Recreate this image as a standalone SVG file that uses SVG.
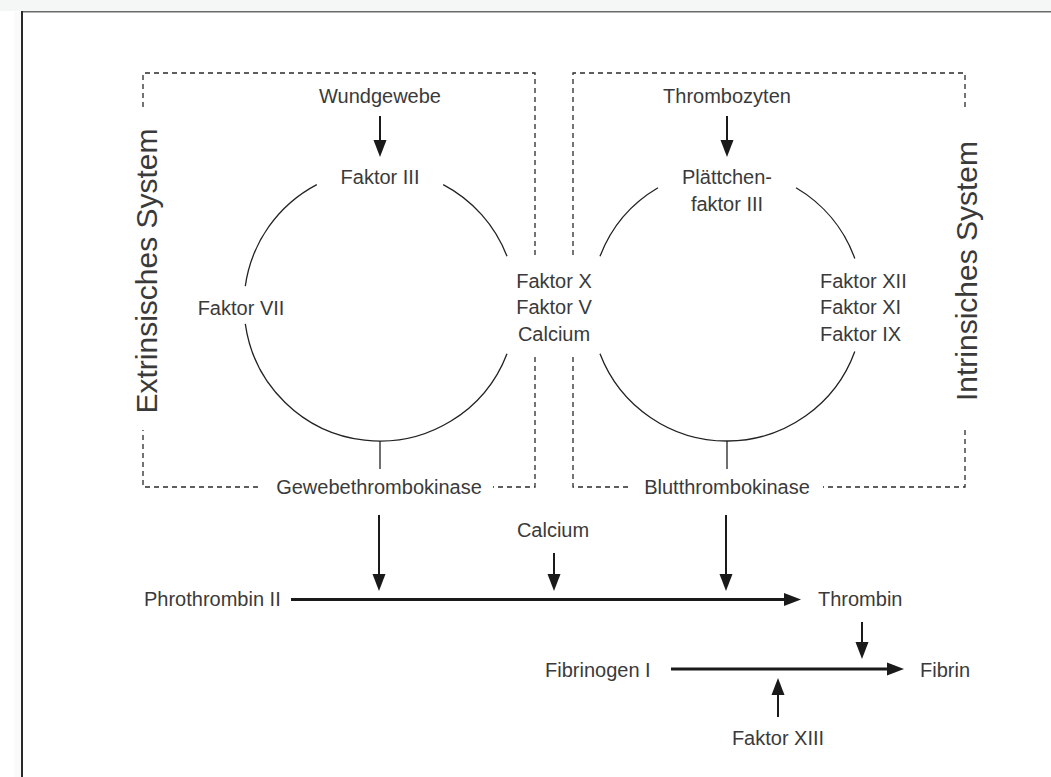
<svg xmlns="http://www.w3.org/2000/svg" width="1051" height="777" viewBox="0 0 1051 777">
<style>
.t{font-family:"Liberation Sans",Arial,sans-serif;font-size:20px;fill:#3a3a3a}
.big{font-family:"Liberation Sans",Arial,sans-serif;font-size:30px;fill:#3a3a3a}
.dash{fill:none;stroke:#2a2a2a;stroke-width:1.3;stroke-dasharray:5 4}
.arc{fill:none;stroke:#222;stroke-width:1.3}
.ar{fill:none;stroke:#1a1a1a;stroke-width:2;marker-end:url(#ah)}
.ar3{fill:none;stroke:#1a1a1a;stroke-width:3;marker-end:url(#ah)}
</style>
<defs>
<marker id="ah" markerUnits="userSpaceOnUse" markerWidth="18" markerHeight="14" refX="7" refY="7" orient="auto">
<path d="M0,0.5 L17,7 L0,13.5 z" fill="#1a1a1a"/>
</marker>
</defs>
<rect x="0" y="0" width="1051" height="777" fill="#fff"/>
<rect x="0" y="0" width="1051" height="11" fill="#f5f6f6"/>
<rect x="14" y="12" width="8" height="765" fill="#fafafa"/>
<line x1="22" y1="11.8" x2="1051" y2="11.8" stroke="#6a6a6a" stroke-width="1.6"/>
<line x1="22" y1="11" x2="22" y2="777" stroke="#2a2a2a" stroke-width="2"/>

<g id="box-extrinsic">
<path class="dash" d="M143,107 V73 H535 V257"/>
<path class="dash" d="M535,357 V487 H493"/>
<path class="dash" d="M258,487 H143 V430"/>
<text class="big" transform="translate(157,271) rotate(-90)" text-anchor="middle">Extrinsisches System</text>
</g>
<g id="box-intrinsic">
<path class="dash" d="M573,255 V73 H965 V107"/>
<path class="dash" d="M965,430 V487 H823"/>
<path class="dash" d="M628,487 H573 V355"/>
<text class="big" transform="translate(977,271) rotate(-90)" text-anchor="middle">Intrinsiches System</text>
</g>

<g id="circle-extrinsic">
<path class="arc" d="M443.2,184.6 A136,136 0 0 1 507,256.3"/>
<path class="arc" d="M507,353.7 A136,136 0 0 1 245.3,323.9"/>
<path class="arc" d="M245.3,286.1 A136,136 0 0 1 316.8,184.6"/>
<line class="arc" x1="380" y1="441" x2="380" y2="469"/>
</g>
<g id="circle-intrinsic">
<path class="arc" d="M796,187.8 A136,136 0 0 1 854.8,258.5"/>
<path class="arc" d="M854.8,351.5 A136,136 0 0 1 600,353.7"/>
<path class="arc" d="M600,256.3 A136,136 0 0 1 658,187.8"/>
<line class="arc" x1="727" y1="441" x2="727" y2="469"/>
</g>

<g id="n-wundgewebe"><text class="t" x="380" y="103" text-anchor="middle">Wundgewebe</text></g>
<g id="n-faktor3"><text class="t" x="380" y="184" text-anchor="middle">Faktor III</text></g>
<g id="n-faktor7"><text class="t" x="241" y="315" text-anchor="middle">Faktor VII</text></g>
<g id="n-faktorXV"><text class="t" text-anchor="middle"><tspan x="554" y="288">Faktor X</tspan><tspan x="554" y="314">Faktor V</tspan><tspan x="554" y="341">Calcium</tspan></text></g>
<g id="n-gewebethrombokinase"><text class="t" x="379" y="494" text-anchor="middle">Gewebethrombokinase</text></g>
<g id="n-thrombozyten"><text class="t" x="727" y="103" text-anchor="middle">Thrombozyten</text></g>
<g id="n-plaettchen"><text class="t" text-anchor="middle"><tspan x="727" y="184">Plättchen-</tspan><tspan x="727" y="211">faktor III</tspan></text></g>
<g id="n-faktor12"><text class="t"><tspan x="820" y="288">Faktor XII</tspan><tspan x="820" y="314">Faktor XI</tspan><tspan x="820" y="341">Faktor IX</tspan></text></g>
<g id="n-blutthrombokinase"><text class="t" x="727" y="494" text-anchor="middle">Blutthrombokinase</text></g>
<g id="n-calcium"><text class="t" x="553" y="537" text-anchor="middle">Calcium</text></g>
<g id="n-prothrombin"><text class="t" x="144" y="606">Phrothrombin II</text></g>
<g id="n-thrombin"><text class="t" x="818" y="606">Thrombin</text></g>
<g id="n-fibrinogen"><text class="t" x="545" y="677">Fibrinogen I</text></g>
<g id="n-fibrin"><text class="t" x="920" y="677">Fibrin</text></g>
<g id="n-faktor13"><text class="t" x="778" y="745" text-anchor="middle">Faktor XIII</text></g>

<g id="connectors">
<line class="ar" x1="380" y1="116" x2="380" y2="147"/>
<line class="ar" x1="727" y1="116" x2="727" y2="147"/>
<line class="ar" x1="379" y1="515" x2="379" y2="581"/>
<line class="ar" x1="554" y1="553" x2="554" y2="581"/>
<line class="ar" x1="726" y1="515" x2="726" y2="581"/>
<line class="ar3" x1="291" y1="599.5" x2="791" y2="599.5"/>
<line class="ar" x1="862" y1="622" x2="862" y2="649"/>
<line class="ar3" x1="671" y1="669" x2="894" y2="669"/>
<line class="ar" x1="778" y1="717" x2="778" y2="688"/>
</g>
</svg>
